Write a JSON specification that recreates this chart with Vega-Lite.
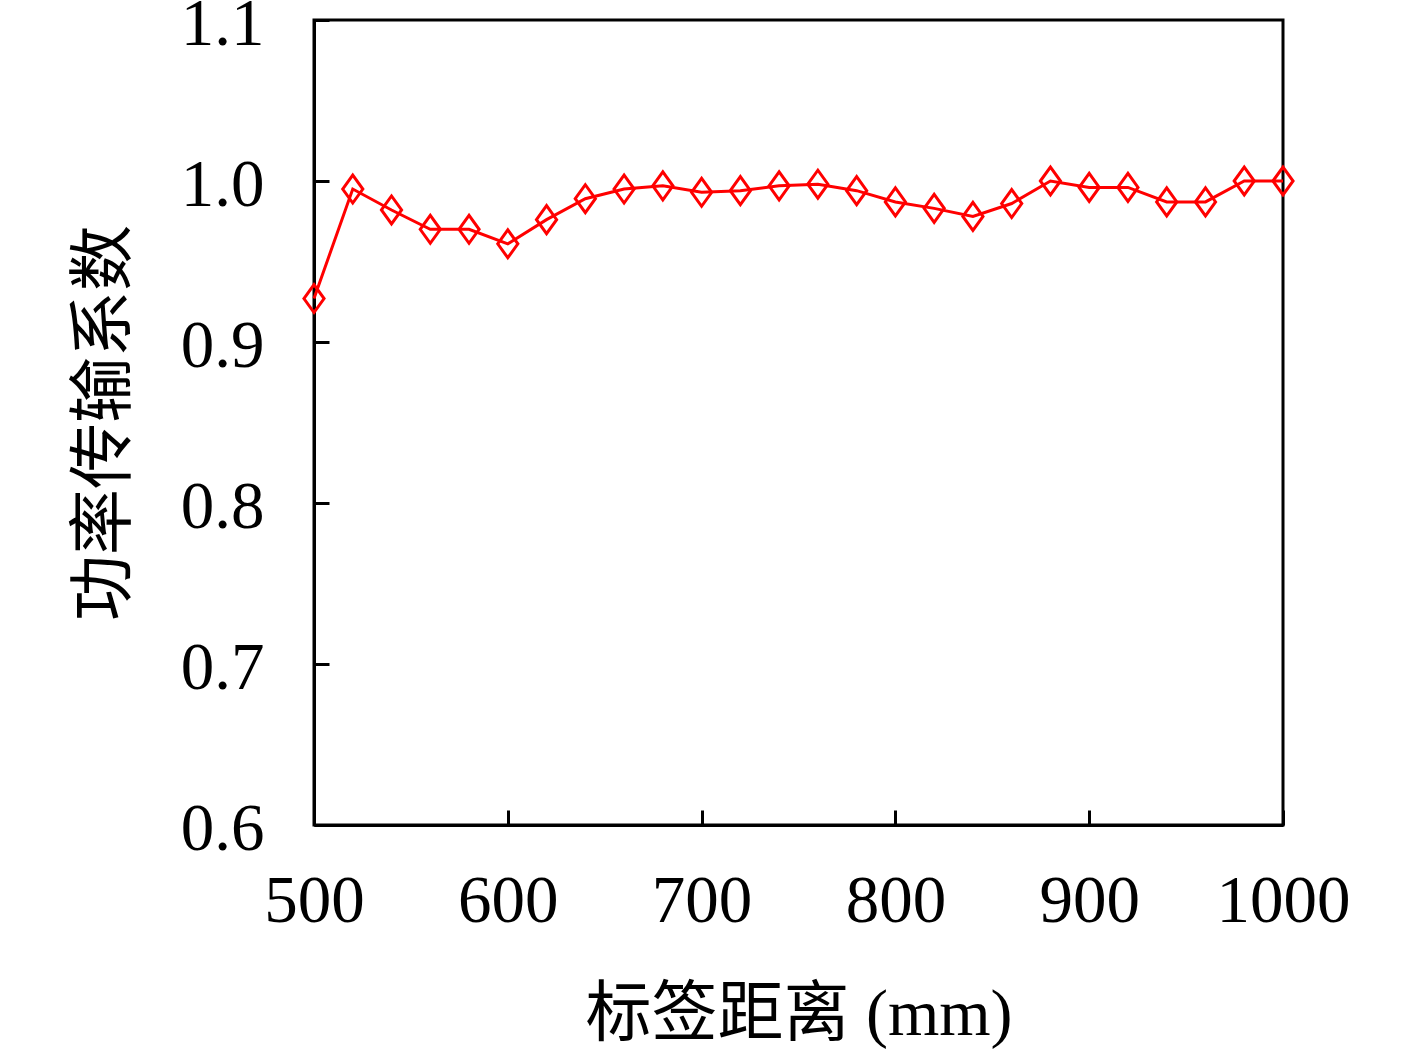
{
  "$schema": "https://vega.github.io/schema/vega-lite/v6.json",
  "autosize": "none",
  "width": 969,
  "height": 805,
  "padding": {"left": 314, "top": 20, "right": 134, "bottom": 225},
  "background": "white",
  "data": {
    "values": [
      {"distance": 500, "coef": 0.927},
      {"distance": 520, "coef": 0.995},
      {"distance": 540, "coef": 0.982},
      {"distance": 560, "coef": 0.970},
      {"distance": 580, "coef": 0.970},
      {"distance": 600, "coef": 0.961},
      {"distance": 620, "coef": 0.976},
      {"distance": 640, "coef": 0.989},
      {"distance": 660, "coef": 0.995},
      {"distance": 680, "coef": 0.997},
      {"distance": 700, "coef": 0.993},
      {"distance": 720, "coef": 0.994},
      {"distance": 740, "coef": 0.997},
      {"distance": 760, "coef": 0.998},
      {"distance": 780, "coef": 0.994},
      {"distance": 800, "coef": 0.987},
      {"distance": 820, "coef": 0.983},
      {"distance": 840, "coef": 0.978},
      {"distance": 860, "coef": 0.986},
      {"distance": 880, "coef": 1.000},
      {"distance": 900, "coef": 0.996},
      {"distance": 920, "coef": 0.996},
      {"distance": 940, "coef": 0.987},
      {"distance": 960, "coef": 0.987},
      {"distance": 980, "coef": 1.000},
      {"distance": 1000, "coef": 1.000}
    ]
  },
  "encoding": {
    "x": {
      "field": "distance",
      "type": "quantitative",
      "scale": {"domain": [500, 1000], "nice": false, "zero": false},
      "axis": {"values": [500, 600, 700, 800, 900, 1000], "format": "d", "title": "标签距离 (mm)"}
    },
    "y": {
      "field": "coef",
      "type": "quantitative",
      "scale": {"domain": [0.6, 1.1], "nice": false, "zero": false},
      "axis": {"values": [0.6, 0.7, 0.8, 0.9, 1.0, 1.1], "format": ".1f", "title": "功率传输系数"}
    }
  },
  "layer": [
    {"mark": {"type": "line", "color": "#ff0000", "strokeWidth": 3, "clip": false}},
    {
      "mark": {
        "type": "point",
        "shape": "M -0.72 0 L 0 -1 L 0.72 0 L 0 1 Z",
        "filled": false,
        "color": "#ff0000",
        "strokeWidth": 3,
        "size": 784,
        "opacity": 1,
        "clip": false
      }
    }
  ],
  "config": {
    "view": {"stroke": "black", "strokeWidth": 3},
    "axis": {
      "grid": false,
      "domainColor": "black",
      "domainWidth": 3,
      "tickColor": "black",
      "tickWidth": 3,
      "tickSize": -15,
      "labelFont": "Liberation Serif",
      "labelFontSize": 67,
      "labelColor": "black",
      "labelFlush": false,
      "labelOverlap": false,
      "titleFont": "Liberation Serif, Noto Sans CJK SC",
      "titleFontSize": 66,
      "titleFontWeight": "normal",
      "titleColor": "black"
    },
    "axisX": {"labelPadding": 58, "titlePadding": 48},
    "axisY": {"labelPadding": 65, "titlePadding": 42, "labelOffset": 4}
  }
}
